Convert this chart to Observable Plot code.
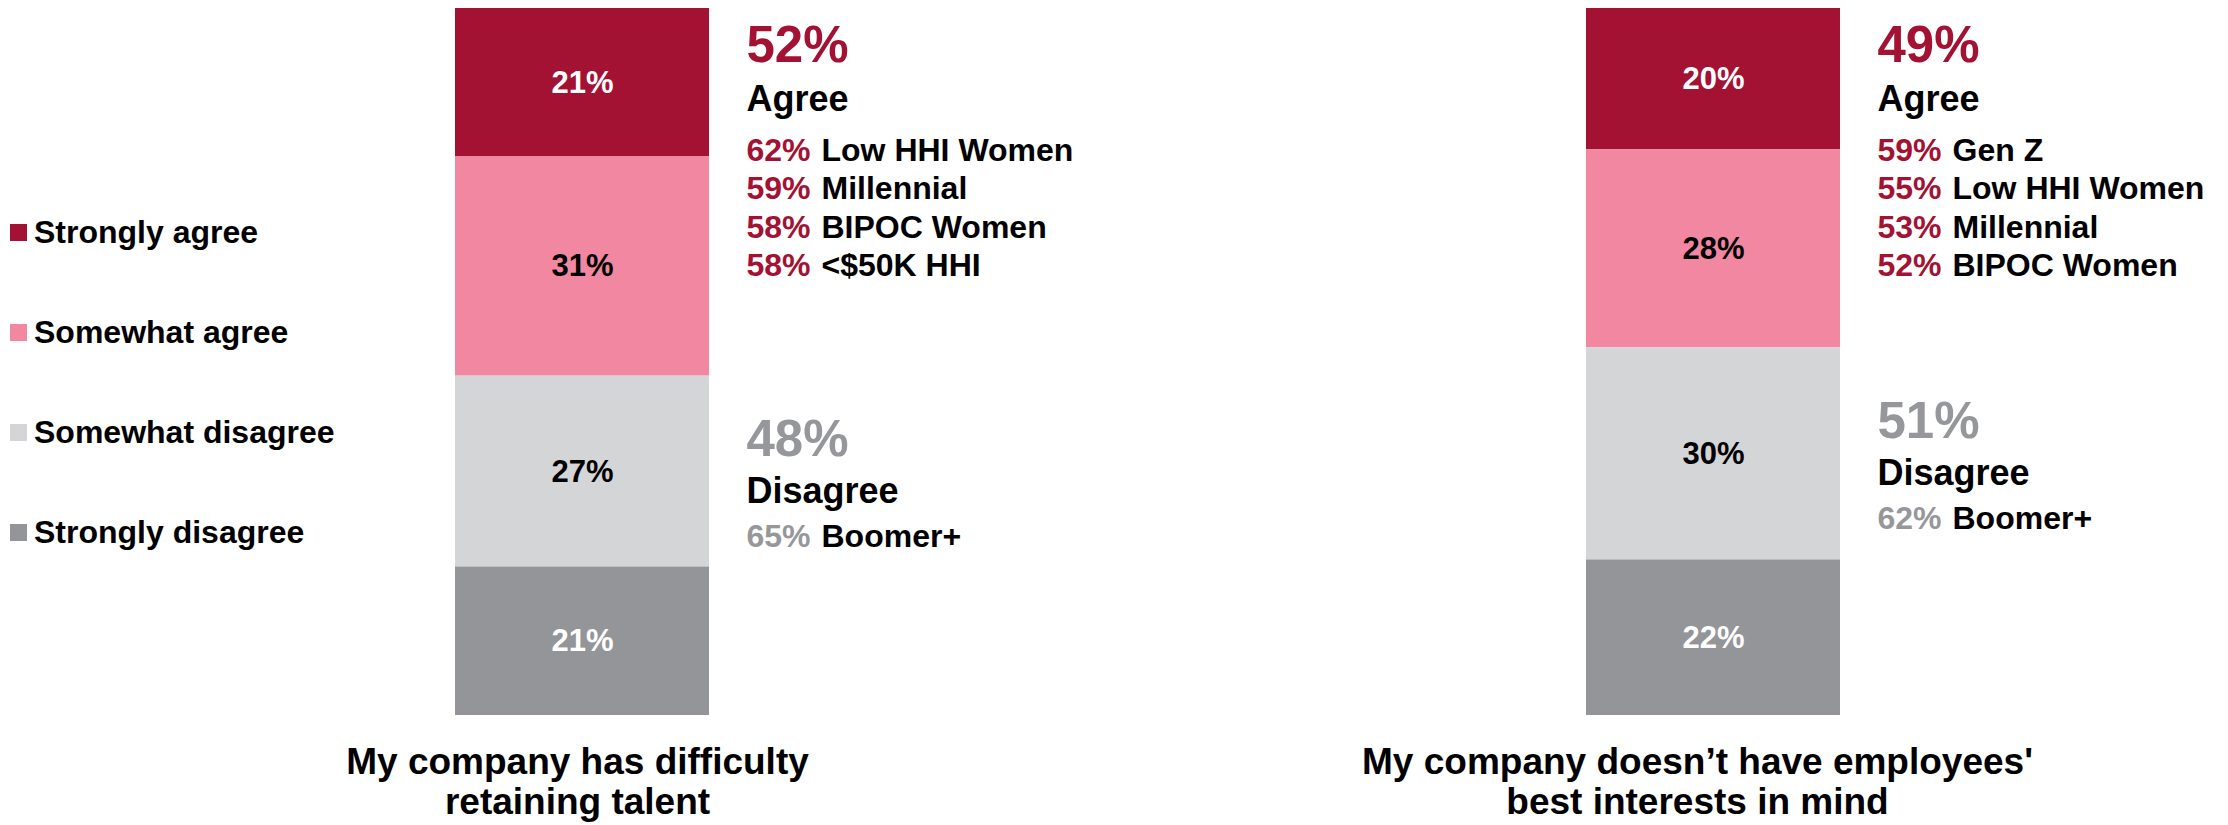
<!DOCTYPE html>
<html>
<head>
<meta charset="utf-8">
<script src="https://cdn.jsdelivr.net/npm/d3@7"></script>
<script src="https://cdn.jsdelivr.net/npm/@observablehq/plot@0.6"></script>
<style>
  html, body { margin: 0; padding: 0; background: #fff; }
  #wrap { position: relative; width: 2228px; height: 825px; }
  #legend { position: absolute; left: 10px; top: 182px; }
  #legend .lg-swatch { height: 100px; display: flex; align-items: center; padding: 0; }
  #legend .lg-swatch > svg { margin-right: 7px; }
  #legend .lg-swatches { margin: 0; }
</style>
</head>
<body>
<div id="wrap"></div>
<script>
const FONT = "'Liberation Sans', Arial, Helvetica, sans-serif";

// ---- data ----
const questions = [
  "My company has difficulty\nretaining talent",
  "My company doesn’t have employees'\nbest interests in mind"
];
const categories = ["Strongly agree", "Somewhat agree", "Somewhat disagree", "Strongly disagree"];
const colors = ["#A31133", "#F287A1", "#D4D5D7", "#949599"];
const stronglyAgree = [21, 20];
const somewhatAgree = [31, 28];
const somewhatDisagree = [27, 30];
const stronglyDisagree = [21, 22];
const agreeTotals = [52, 49];
const disagreeTotals = [48, 51];
const agreeGroups = [
  ["Low HHI Women", "Millennial", "BIPOC Women", "<$50K HHI"],
  ["Gen Z", "Low HHI Women", "Millennial", "BIPOC Women"]
];
const agreeGroupValues = [[62, 59, 58, 58], [59, 55, 53, 52]];
const disagreeGroups = [["Boomer+"], ["Boomer+"]];
const disagreeGroupValues = [[65], [62]];

const CRIMSON = "#A31133";
const GRAY = "#96979B";

// ---- derived tables ----
const seriesValues = [stronglyAgree, somewhatAgree, somewhatDisagree, stronglyDisagree];
const darkCats = new Set(["Strongly agree", "Strongly disagree"]);
const rows = questions.flatMap((q, i) =>
  categories.map((c, j) => ({q, cat: c, value: seriesValues[j][i]}))
);
const ann = questions.map((q, i) => ({
  q,
  agreeTotal: agreeTotals[i],
  disagreeTotal: disagreeTotals[i],
  disagreeAnchor: stronglyAgree[i] + somewhatAgree[i] + somewhatDisagree[i] / 2,
  agreePcts: agreeGroupValues[i].map(v => v + "%").join("\n"),
  agreeNames: agreeGroups[i].join("\n"),
  disPcts: disagreeGroupValues[i].map(v => v + "%").join("\n"),
  disNames: disagreeGroups[i].join("\n")
}));

const DX = 164;      // annotation offset from band centre
const DX2 = DX + 75; // group-name offset
const ROW_FS = 32;
const common = {x: "q", textAnchor: "start", fontWeight: "bold", fontFamily: FONT};
const titleStyle = {x: d => d, text: d => d, frameAnchor: "bottom", lineAnchor: "top",
  dy: 30, fontSize: 37, lineHeight: 1.08, fontWeight: "bold", fontFamily: FONT, fill: "black"};

const chart = Plot.plot({
  width: 2228,
  height: 825,
  marginLeft: 454,
  marginRight: 388,
  marginTop: 8,
  marginBottom: 110,
  style: {fontFamily: FONT, fontWeight: "bold", background: "white", color: "black", overflow: "visible"},
  x: {domain: questions, paddingInner: 0.7756, paddingOuter: 0, axis: null},
  y: {domain: [0, 100], reverse: true, axis: null},
  color: {domain: categories, range: colors},
  marks: [
    Plot.barY(rows, Plot.stackY({x: "q", y: "value", fill: "cat"})),
    Plot.text(rows, Plot.stackY({x: "q", y: "value",
      text: d => darkCats.has(d.cat) ? d.value + "%" : null,
      fill: "white", fontSize: 31, fontWeight: "bold", fontFamily: FONT})),
    Plot.text(rows, Plot.stackY({x: "q", y: "value",
      text: d => darkCats.has(d.cat) ? null : d.value + "%",
      fill: "black", fontSize: 31, fontWeight: "bold", fontFamily: FONT})),

    // Agree block (anchored at top of bar)
    Plot.text(ann, {...common, y: d => 0, text: d => d.agreeTotal + "%", fill: CRIMSON,
      fontSize: 51, lineAnchor: "bottom", dx: DX, dy: 53}),
    Plot.text(ann, {...common, y: d => 0, text: d => "Agree", fill: "black",
      fontSize: 36, lineAnchor: "bottom", dx: DX, dy: 102}),
    Plot.text(ann, {...common, y: d => 0, text: "agreePcts", fill: CRIMSON,
      fontSize: ROW_FS, lineHeight: 38.5 / ROW_FS, lineAnchor: "top", dx: DX, dy: 125}),
    Plot.text(ann, {...common, y: d => 0, text: "agreeNames", fill: "black",
      fontSize: ROW_FS, lineHeight: 38.5 / ROW_FS, lineAnchor: "top", dx: DX2, dy: 125}),

    // Disagree block (anchored at middle of "somewhat disagree")
    Plot.text(ann, {...common, y: "disagreeAnchor", text: d => d.disagreeTotal + "%", fill: GRAY,
      fontSize: 51, lineAnchor: "bottom", dx: DX, dy: -16}),
    Plot.text(ann, {...common, y: "disagreeAnchor", text: d => "Disagree", fill: "black",
      fontSize: 36, lineAnchor: "bottom", dx: DX, dy: 31}),
    Plot.text(ann, {...common, y: "disagreeAnchor", text: "disPcts", fill: GRAY,
      fontSize: ROW_FS, lineAnchor: "bottom", dx: DX, dy: 75}),
    Plot.text(ann, {...common, y: "disagreeAnchor", text: "disNames", fill: "black",
      fontSize: ROW_FS, lineAnchor: "bottom", dx: DX2, dy: 75}),

    // Question titles under the bars
    Plot.text([questions[0]], {...titleStyle, dx: -5}),
    Plot.text([questions[1]], {...titleStyle, dx: -16})
  ]
});

const legend = Plot.legend({
  color: {domain: categories, range: colors},
  legend: "swatches",
  columns: 1,
  swatchSize: 17,
  className: "lg",
  style: {fontFamily: FONT, fontSize: "32px", fontWeight: "bold", color: "black", margin: "0"}
});

const wrap = document.getElementById("wrap");
wrap.appendChild(chart);
const lw = document.createElement("div");
lw.id = "legend";
lw.appendChild(legend);
wrap.appendChild(lw);
</script>
</body>
</html>
